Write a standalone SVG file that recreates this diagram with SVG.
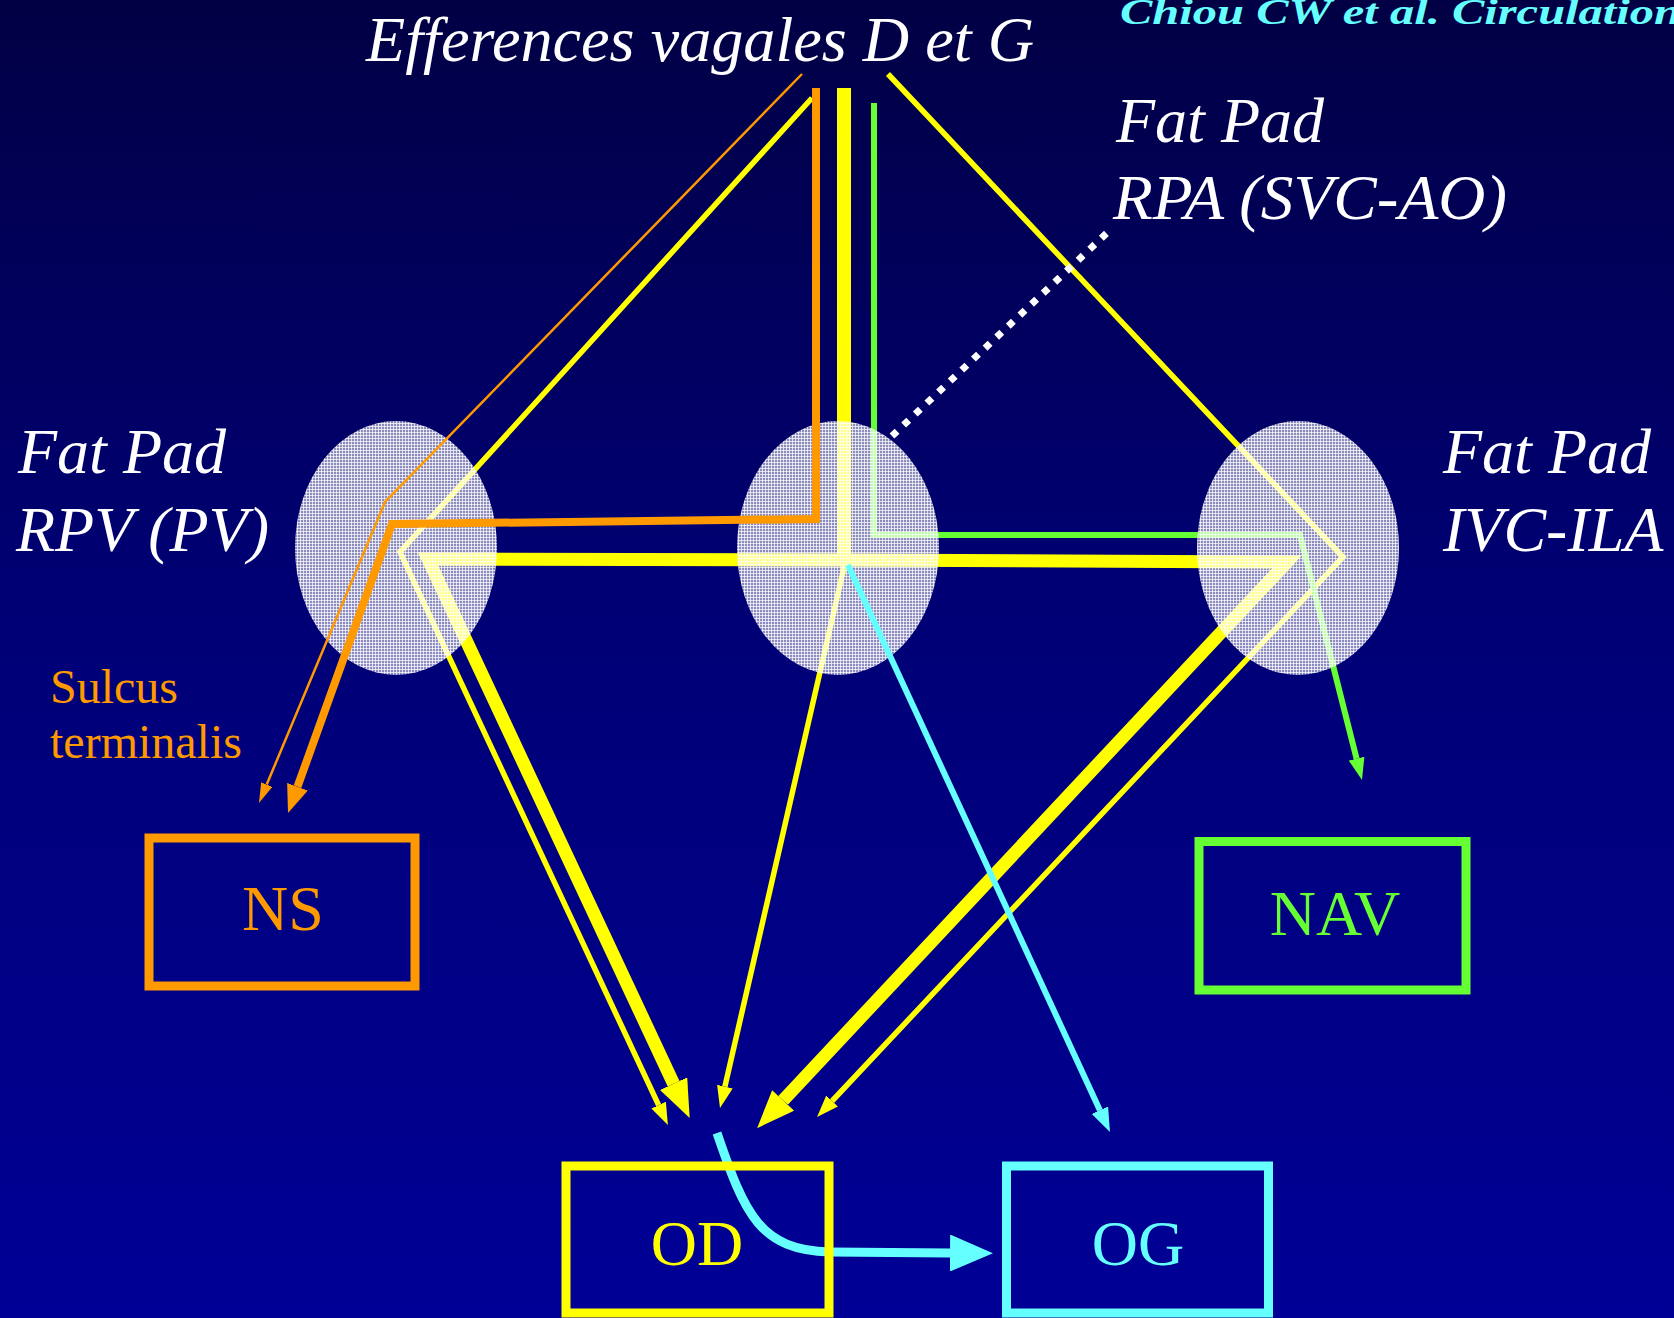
<svg xmlns="http://www.w3.org/2000/svg" width="1674" height="1318" viewBox="0 0 1674 1318">
<defs>
<linearGradient id="bg" x1="0" y1="0" x2="0" y2="1">
<stop offset="0" stop-color="#010044"/>
<stop offset="0.45" stop-color="#000074"/>
<stop offset="1" stop-color="#000096"/>
</linearGradient>
<pattern id="mesh" width="3" height="3" patternUnits="userSpaceOnUse">
<rect width="3" height="3" fill="#ffffff" fill-opacity="0.55"/>
<rect width="3" height="1" fill="#ffffff" fill-opacity="0.7"/>
<rect width="1" height="3" fill="#ffffff" fill-opacity="0.7"/>
</pattern>
<marker id="ahYs" markerUnits="userSpaceOnUse" markerWidth="22" markerHeight="16" viewBox="0 0 22 16" refX="0" refY="8" orient="auto"><path d="M0,0 L22,8 L0,16 z" fill="#ffff00"/></marker>
<marker id="ahYb" markerUnits="userSpaceOnUse" markerWidth="38" markerHeight="30" viewBox="0 0 38 30" refX="0" refY="15" orient="auto"><path d="M0,0 L38,15 L0,30 z" fill="#ffff00"/></marker>
<marker id="ahOs" markerUnits="userSpaceOnUse" markerWidth="20" markerHeight="12" viewBox="0 0 20 12" refX="0" refY="6" orient="auto"><path d="M0,0 L20,6 L0,12 z" fill="#ff9900"/></marker>
<marker id="ahOb" markerUnits="userSpaceOnUse" markerWidth="28" markerHeight="22" viewBox="0 0 28 22" refX="0" refY="11" orient="auto"><path d="M0,0 L28,11 L0,22 z" fill="#ff9900"/></marker>
<marker id="ahG" markerUnits="userSpaceOnUse" markerWidth="22" markerHeight="16" viewBox="0 0 22 16" refX="0" refY="8" orient="auto"><path d="M0,0 L22,8 L0,16 z" fill="#66ff33"/></marker>
<marker id="ahC" markerUnits="userSpaceOnUse" markerWidth="24" markerHeight="18" viewBox="0 0 24 18" refX="0" refY="9" orient="auto"><path d="M0,0 L24,9 L0,18 z" fill="#66ffff"/></marker>
<marker id="ahCb" markerUnits="userSpaceOnUse" markerWidth="43" markerHeight="37" viewBox="0 0 43 37" refX="0" refY="18.5" orient="auto"><path d="M0,0 L43,18.5 L0,37 z" fill="#66ffff"/></marker>
</defs>
<style>
.lbl{font-family:"Liberation Serif","Times New Roman",serif;font-style:italic;font-size:64px;fill:#ffffff}
.box{fill:none;stroke-width:9}
.btxt{font-family:"Liberation Serif","Times New Roman",serif;font-size:64px;text-anchor:middle}
.ln{fill:none;stroke-linejoin:miter;stroke-linecap:butt}
.pad{fill:url(#mesh)}
.sul{font-family:"Liberation Serif","Times New Roman",serif;font-size:48px;fill:#ff9900}
</style>
<rect width="1674" height="1318" fill="url(#bg)"/>

<g id="connectors-under">
<path class="ln" d="M844,88 L844,560" stroke="#ffff00" stroke-width="14"/>
<path class="ln" d="M844,560 L428,559 L673.6,1083.7" stroke="#ffff00" stroke-width="13" marker-end="url(#ahYb)"/>
<path class="ln" d="M844,560 L1287,562 L783.1,1100.4" stroke="#ffff00" stroke-width="13" marker-end="url(#ahYb)"/>
<path class="ln" d="M812,98 L400,552 L658.6,1105.1" stroke="#ffff00" stroke-width="5.5" marker-end="url(#ahYs)"/>
<path class="ln" d="M888,74 L1343,557 L832.1,1101" stroke="#ffff00" stroke-width="5.5" marker-end="url(#ahYs)"/>
<path class="ln" d="M845,563 L724.9,1086.6" stroke="#ffff00" stroke-width="5.5" marker-end="url(#ahYs)"/>
<path class="ln" d="M874,103 L874,535 L1300,535 L1356.6,758.7" stroke="#66ff33" stroke-width="6" marker-end="url(#ahG)"/>
</g>

<g id="fatpad-rpv">
<ellipse class="pad" cx="396" cy="548" rx="101" ry="127"/>
<text class="lbl" x="18" y="473">Fat Pad</text>
<text class="lbl" x="16" y="551">RPV (PV)</text>
</g>
<g id="fatpad-rpa">
<ellipse class="pad" cx="838" cy="548" rx="101" ry="127"/>
<text class="lbl" x="1116" y="142">Fat Pad</text>
<text class="lbl" x="1113" y="219" textLength="394" lengthAdjust="spacingAndGlyphs">RPA (SVC-AO)</text>
</g>
<g id="fatpad-ivc">
<ellipse class="pad" cx="1298" cy="548" rx="101" ry="127"/>
<text class="lbl" x="1443" y="473">Fat Pad</text>
<text class="lbl" x="1443" y="551">IVC-ILA</text>
</g>

<g id="connectors-over">
<path class="ln" d="M802,74 L385,502 L266.7,784.6" stroke="#ff9900" stroke-width="2.5" marker-end="url(#ahOs)"/>
<path class="ln" d="M816,88 L816,519 L392,524 L297.5,786.7" stroke="#ff9900" stroke-width="8" marker-end="url(#ahOb)"/>
<path class="ln" d="M848,565 L1099.9,1110.2" stroke="#66ffff" stroke-width="6" marker-end="url(#ahC)"/>
<path class="ln" d="M717,1133 C745,1215 760,1250 830,1252 L950,1253" stroke="#66ffff" stroke-width="9" marker-end="url(#ahCb)"/>
<path class="ln" d="M892,436 L1110,230" stroke="#ffffff" stroke-width="7" stroke-dasharray="7 9"/>
</g>

<g id="title">
<text class="lbl" x="366" y="61" textLength="668" lengthAdjust="spacingAndGlyphs">Efferences vagales D et G</text>
</g>
<g id="citation">
<text x="1120" y="24" font-family="Liberation Serif, Times New Roman, serif" font-style="italic" font-weight="bold" font-size="36" fill="#66ffff" textLength="561" lengthAdjust="spacingAndGlyphs">Chiou CW et al. Circulation</text>
</g>
<g id="sulcus">
<text class="sul" x="50" y="703">Sulcus</text>
<text class="sul" x="50" y="758">terminalis</text>
</g>

<g id="box-ns">
<rect class="box" x="149" y="838" width="266" height="148" stroke="#ff9900"/>
<text class="btxt" x="283" y="930" fill="#ff9900">NS</text>
</g>
<g id="box-nav">
<rect class="box" x="1199" y="841.5" width="267" height="148.5" stroke="#66ff33"/>
<text class="btxt" x="1335" y="935" fill="#66ff33">NAV</text>
</g>
<g id="box-od">
<rect class="box" x="566" y="1166" width="263" height="147" stroke="#ffff00" stroke-width="8"/>
<text class="btxt" x="697" y="1265" fill="#ffff00">OD</text>
</g>
<g id="box-og">
<rect class="box" x="1006.5" y="1166" width="262" height="147" stroke="#66ffff" stroke-width="8"/>
<text class="btxt" x="1138" y="1265" fill="#66ffff">OG</text>
</g>
</svg>
